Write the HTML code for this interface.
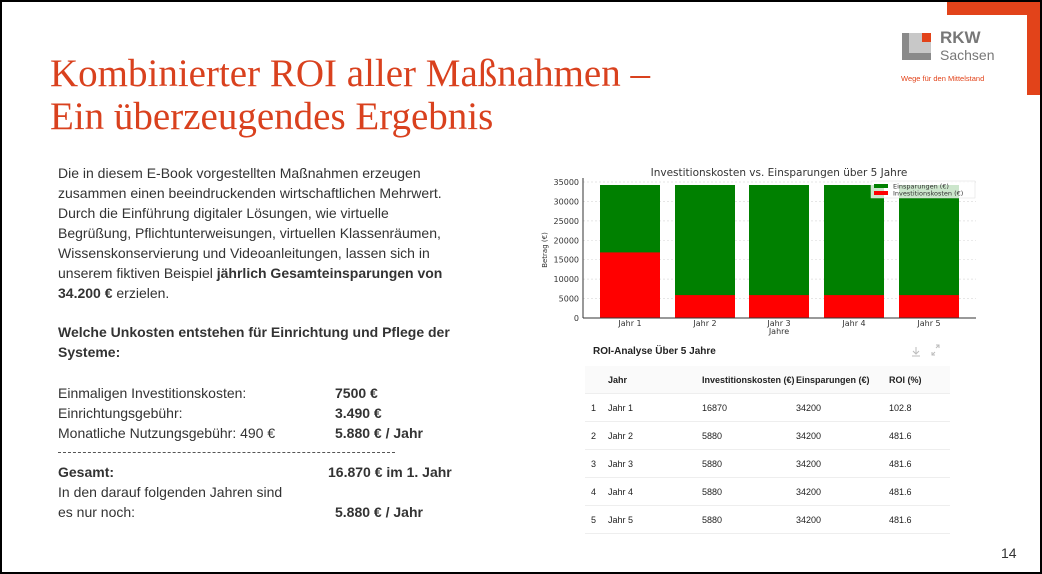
<!DOCTYPE html>
<html><head><meta charset="utf-8"><style>
body{margin:0;width:1042px;height:574px;overflow:hidden;background:#fff;font-family:"Liberation Sans",sans-serif;}
.frame{position:absolute;left:0;top:0;width:1038px;height:570px;border:2px solid #000;}
.t{position:absolute;white-space:nowrap;color:#333;font-size:14px;line-height:20px;}
.title{position:absolute;left:50px;color:#d9411e;font-family:"Liberation Serif",serif;font-size:39px;line-height:43px;white-space:nowrap;}
b{font-weight:bold;}
table{border-collapse:collapse;font-size:9px;color:#222;white-space:nowrap;}
td{height:27px;border-bottom:1px solid #eee;padding:0 0 0 6px;}
</style></head><body>
<div class="frame"></div>
<div style="position:absolute;left:947px;top:2px;width:93px;height:13px;background:#e2431a"></div>
<div style="position:absolute;left:1027px;top:2px;width:13px;height:93px;background:#e2431a"></div>
<div style="position:absolute;left:902px;top:33px;width:29px;height:27px;background:#8a8a8a"></div>
<div style="position:absolute;left:909px;top:33px;width:22px;height:20px;background:#c8c8c8"></div>
<div style="position:absolute;left:922px;top:33px;width:9px;height:9px;background:#e2431a"></div>
<div style="position:absolute;left:940px;top:29px;font-size:17px;font-weight:bold;color:#777;line-height:18px">RKW</div>
<div style="position:absolute;left:940px;top:47px;font-size:14px;color:#777;line-height:16px">Sachsen</div>
<div style="position:absolute;left:901px;top:74px;font-size:7.5px;color:#e2431a">Wege für den Mittelstand</div>

<div class="title" style="top:52px">Kombinierter ROI aller Maßnahmen –</div>
<div class="title" style="top:95px">Ein überzeugendes Ergebnis</div>

<div class="t" style="left:58px;top:163px">Die in diesem E-Book vorgestellten Maßnahmen erzeugen<br>zusammen einen beeindruckenden wirtschaftlichen Mehrwert.<br>Durch die Einführung digitaler Lösungen, wie virtuelle<br>Begrüßung, Pflichtunterweisungen, virtuellen Klassenräumen,<br>Wissenskonservierung und Videoanleitungen, lassen sich in<br>unserem fiktiven Beispiel <b>jährlich Gesamteinsparungen von</b><br><b>34.200 €</b> erzielen.</div>
<div class="t" style="left:58px;top:322px"><b>Welche Unkosten entstehen für Einrichtung und Pflege der<br>Systeme:</b></div>
<div class="t" style="left:58px;top:383px">Einmaligen Investitionskosten:<br>Einrichtungsgebühr:<br>Monatliche Nutzungsgebühr: 490 €</div>
<div class="t" style="left:335px;top:383px"><b>7500 €<br>3.490 €<br>5.880 € / Jahr</b></div>
<div style="position:absolute;left:58px;top:452px;width:337px;border-top:1.5px dashed #555"></div>
<div class="t" style="left:58px;top:462px"><b>Gesamt:</b><br>In den darauf folgenden Jahren sind<br>es nur noch:</div>
<div class="t" style="left:328px;top:462px"><b>16.870 € im 1. Jahr</b></div>
<div class="t" style="left:335px;top:502px"><b>5.880 € / Jahr</b></div>

<svg style="position:absolute;left:0;top:0" width="1042" height="574">
<g font-family="DejaVu Sans,sans-serif" font-size="8" fill="#333">
<text x="779" y="176" text-anchor="middle" font-size="10.5">Investitionskosten vs. Einsparungen über 5 Jahre</text>
<g stroke="#ddd" stroke-dasharray="2,2" stroke-width="0.7">
<line x1="583" x2="976" y1="182" y2="182"/><line x1="583" x2="976" y1="201.4" y2="201.4"/><line x1="583" x2="976" y1="220.9" y2="220.9"/><line x1="583" x2="976" y1="240.3" y2="240.3"/><line x1="583" x2="976" y1="259.7" y2="259.7"/><line x1="583" x2="976" y1="279.1" y2="279.1"/><line x1="583" x2="976" y1="298.6" y2="298.6"/>
</g>
<g fill="#008000">
<rect x="600" y="185" width="60" height="133"/><rect x="675" y="185" width="60" height="133"/><rect x="749" y="185" width="60" height="133"/><rect x="824" y="185" width="60" height="133"/><rect x="899" y="185" width="60" height="133"/>
</g>
<g fill="#ff0000">
<rect x="600" y="252.4" width="60" height="65.6"/><rect x="675" y="295.1" width="60" height="22.9"/><rect x="749" y="295.1" width="60" height="22.9"/><rect x="824" y="295.1" width="60" height="22.9"/><rect x="899" y="295.1" width="60" height="22.9"/>
</g>
<line x1="583" x2="583" y1="178" y2="318" stroke="#333"/>
<line x1="583" x2="976" y1="318" y2="318" stroke="#333"/>
<g text-anchor="end">
<text x="579" y="321">0</text><text x="579" y="301.6">5000</text><text x="579" y="282.1">10000</text><text x="579" y="262.7">15000</text><text x="579" y="243.3">20000</text><text x="579" y="223.9">25000</text><text x="579" y="204.4">30000</text><text x="579" y="185">35000</text>
</g>
<g text-anchor="middle">
<text x="630" y="326">Jahr 1</text><text x="705" y="326">Jahr 2</text><text x="779" y="326">Jahr 3</text><text x="854" y="326">Jahr 4</text><text x="929" y="326">Jahr 5</text>
<text x="779" y="334">Jahre</text>
</g>
<text transform="translate(547,250) rotate(-90)" text-anchor="middle" font-size="7">Betrag (€)</text>
<rect x="871" y="181" width="104" height="17" fill="#fff" fill-opacity="0.8" stroke="#ddd" stroke-width="0.5"/>
<rect x="874" y="184" width="14" height="4" fill="#008000"/><rect x="874" y="191" width="14" height="4" fill="#ff0000"/>
<text x="893" y="188.5" font-size="6.5">Einsparungen (€)</text><text x="893" y="195.5" font-size="6.5">Investitionskosten (€)</text>
</g>
<g stroke="#bbb" fill="none" stroke-width="1"><path d="M916 347v6M913 351l3 3 3-3M912 356h8"/><path d="M932 355l3-3M936 348l3-3M936 345h3v3M932 352v3h3"/></g>
</svg>

<div style="position:absolute;left:593px;top:346px;font-size:10px;font-weight:bold;color:#222">ROI-Analyse Über 5 Jahre</div>
<table style="position:absolute;left:585px;top:366px;width:365px;table-layout:fixed">
<tr style="background:#fafafa;font-weight:bold"><td style="width:11px"></td><td style="width:88px">Jahr</td><td style="width:88px">Investitionskosten (€)</td><td style="width:87px">Einsparungen (€)</td><td>ROI (%)</td></tr>
<tr><td>1</td><td>Jahr 1</td><td>16870</td><td>34200</td><td>102.8</td></tr>
<tr><td>2</td><td>Jahr 2</td><td>5880</td><td>34200</td><td>481.6</td></tr>
<tr><td>3</td><td>Jahr 3</td><td>5880</td><td>34200</td><td>481.6</td></tr>
<tr><td>4</td><td>Jahr 4</td><td>5880</td><td>34200</td><td>481.6</td></tr>
<tr><td>5</td><td>Jahr 5</td><td>5880</td><td>34200</td><td>481.6</td></tr>
</table>
<div style="position:absolute;left:1001px;top:545px;font-size:14px;color:#333">14</div>
</body></html>
